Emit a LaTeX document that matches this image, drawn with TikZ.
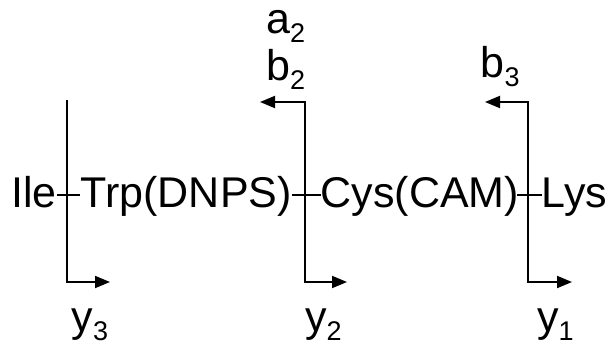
\documentclass[tikz,border=0pt]{standalone}
\usepackage{fontspec}
\setmainfont{Liberation Sans}
\usetikzlibrary{arrows.meta}

% ion label: letter with a lowered, smaller index
\newcommand{\ionlbl}[2]{#1\raisebox{-9pt}{\fontsize{27}{27}\selectfont #2}}

\begin{document}
\begin{tikzpicture}[x=1pt,y=-1pt,
  residue/.style={inner sep=0pt,anchor=base west,font=\fontsize{43}{48}\selectfont},
  ionlabel/.style={inner sep=0pt,anchor=base west,font=\fontsize{43}{48}\selectfont},
  bond/.style={line width=1.8pt},
  cleave/.style={line width=1.9pt,{Triangle[length=15pt,width=12pt]}-{Triangle[length=15pt,width=12pt]}},
  cleaveplain/.style={line width=1.9pt,-{Triangle[length=15pt,width=12pt]}}]

\useasboundingbox (0,0) rectangle (610,351);

% peptide sequence
\node[residue] (ile) at (11,207) {Ile};
\node[residue] (trp) at (80.5,207) {Trp(DNPS)};
\node[residue] (cys) at (320.5,207) {Cys(CAM)};
\node[residue] (lys) at (541.5,207) {Lys};

% peptide bonds
\draw[bond] ([xshift=0.5pt,yshift=12pt]ile.base east) -- ([xshift=-0.5pt,yshift=12pt]trp.base west);
\draw[bond] ([xshift=0pt,yshift=12pt]trp.base east) -- ([xshift=0pt,yshift=12pt]cys.base west);
\draw[bond] ([xshift=-2pt,yshift=12pt]cys.base east) -- ([xshift=0pt,yshift=12pt]lys.base west);

% fragmentation sites
\coordinate (s3top) at (67,100);
\coordinate (s3bot) at (67,282);
\coordinate (s3tip) at (110,282);

\coordinate (s2tip) at (260,102);
\coordinate (s2top) at (305,102);
\coordinate (s2bot) at (305,282);
\coordinate (s2end) at (347,282);

\coordinate (s1tip) at (485,102);
\coordinate (s1top) at (528,102);
\coordinate (s1bot) at (528,282);
\coordinate (s1end) at (572,282);

\draw[cleaveplain] (s3top) -- (s3bot) -- (s3tip);
\draw[cleave] (s2tip) -- (s2top) -- (s2bot) -- (s2end);
\draw[cleave] (s1tip) -- (s1top) -- (s1bot) -- (s1end);

% fragment ion labels
\node[ionlabel] (a2) at (266,33) {\ionlbl{a}{2}};
\node[ionlabel] (b2) at (266,80) {\ionlbl{b}{2}};
\node[ionlabel] (b3) at (480.5,77) {\ionlbl{b}{3}};
\node[ionlabel] (y3) at (71.5,331) {\ionlbl{y}{3}};
\node[ionlabel] (y2) at (305,331) {\ionlbl{y}{2}};
\node[ionlabel] (y1) at (537,331) {\ionlbl{y}{1}};
\end{tikzpicture}
\end{document}
